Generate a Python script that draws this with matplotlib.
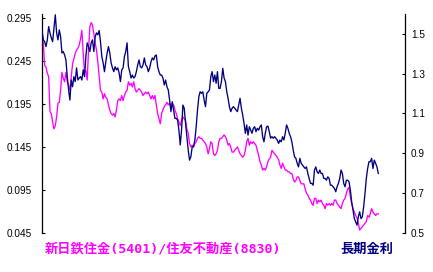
import matplotlib
matplotlib.use("Agg")
import matplotlib.pyplot as plt
import numpy as np

# 新日鉄住金(5401)/住友不動産(8830) の株価比率 (左軸)
ratio = [
    0.275, 0.266, 0.240, 0.238, 0.231, 0.227, 0.186, 0.184, 0.174, 0.166,
    0.170, 0.180, 0.196, 0.197, 0.211, 0.232, 0.225, 0.221, 0.232, 0.221,
    0.217, 0.211, 0.227, 0.242, 0.248, 0.254, 0.258, 0.260, 0.264, 0.271,
    0.281, 0.254, 0.232, 0.234, 0.223, 0.258, 0.285, 0.290, 0.287, 0.277,
    0.266, 0.258, 0.244, 0.227, 0.211, 0.209, 0.201, 0.207, 0.203, 0.201,
    0.194, 0.188, 0.184, 0.182, 0.184, 0.180, 0.188, 0.199, 0.201, 0.199,
    0.205, 0.199, 0.205, 0.209, 0.211, 0.221, 0.217, 0.219, 0.215, 0.221,
    0.213, 0.209, 0.211, 0.213, 0.211, 0.209, 0.205, 0.207, 0.209, 0.207,
    0.209, 0.205, 0.201, 0.205, 0.201, 0.205, 0.194, 0.184, 0.178, 0.172,
    0.184, 0.188, 0.192, 0.194, 0.197, 0.194, 0.196, 0.192, 0.196, 0.194,
    0.188, 0.184, 0.178, 0.174, 0.170, 0.176, 0.180, 0.178, 0.176, 0.166,
    0.161, 0.149, 0.145, 0.147, 0.145, 0.149, 0.151, 0.155, 0.157, 0.155,
    0.155, 0.153, 0.151, 0.149, 0.145, 0.137, 0.143, 0.151, 0.149, 0.137,
    0.135, 0.137, 0.141, 0.151, 0.155, 0.155, 0.157, 0.159,
    0.157, 0.153, 0.147, 0.149, 0.145, 0.139, 0.139, 0.141, 0.143, 0.145,
    0.141, 0.137, 0.135, 0.133, 0.135, 0.141, 0.151, 0.155, 0.147, 0.151,
    0.149, 0.151, 0.149, 0.147, 0.141, 0.135, 0.128, 0.124, 0.118, 0.120,
    0.118, 0.122, 0.128, 0.131, 0.133, 0.141, 0.139, 0.137, 0.135, 0.133,
    0.130, 0.124, 0.120, 0.126, 0.122, 0.118, 0.118, 0.116, 0.116, 0.114,
    0.114, 0.108, 0.104, 0.106, 0.110, 0.110, 0.106, 0.102, 0.102, 0.102,
    0.096, 0.091, 0.089, 0.085, 0.083, 0.079, 0.077, 0.085,
    0.085, 0.079, 0.083, 0.081, 0.083, 0.079, 0.077, 0.073, 0.079, 0.077,
    0.079, 0.077, 0.079, 0.077, 0.083, 0.083, 0.079, 0.077, 0.075, 0.073,
    0.079, 0.083, 0.085, 0.091, 0.096, 0.098, 0.087, 0.079, 0.073, 0.069,
    0.065, 0.062, 0.056, 0.048, 0.050, 0.052, 0.054, 0.056, 0.058, 0.065,
    0.063, 0.067, 0.073, 0.069, 0.067, 0.065, 0.067, 0.067,
]

# 長期金利 (右軸)
rate = [
    1.520, 1.470, 1.461, 1.436, 1.470, 1.537, 1.505, 1.480, 1.461, 1.530,
    1.596, 1.505, 1.470, 1.520, 1.486, 1.404, 1.411, 1.394, 1.369, 1.285,
    1.218, 1.167, 1.268, 1.234, 1.285, 1.260, 1.329, 1.268, 1.278, 1.285,
    1.268, 1.319, 1.285, 1.386, 1.455, 1.436, 1.411, 1.455, 1.470, 1.411,
    1.486, 1.505, 1.495, 1.517, 1.461, 1.386, 1.354, 1.310, 1.360, 1.404,
    1.436, 1.404, 1.354, 1.329, 1.310, 1.335, 1.319, 1.329, 1.304, 1.260,
    1.319, 1.329, 1.386, 1.411, 1.455, 1.335, 1.310, 1.278, 1.293, 1.278,
    1.285, 1.310, 1.344, 1.369, 1.335, 1.329, 1.344, 1.379, 1.344, 1.335,
    1.310, 1.329, 1.360, 1.379, 1.369, 1.389, 1.394, 1.335, 1.310, 1.293,
    1.293, 1.278, 1.243, 1.268, 1.234, 1.218, 1.167, 1.109, 1.159, 1.117,
    1.075, 1.075, 1.067, 1.016, 0.941, 1.016, 1.142, 1.126, 1.050, 0.983,
    0.916, 0.865, 0.882, 0.932, 0.932, 0.966, 1.033, 1.117, 1.184, 1.209,
    1.201, 1.209, 1.167, 1.134, 1.201, 1.209, 1.218, 1.285, 1.310, 1.260,
    1.293, 1.252, 1.310, 1.226, 1.226, 1.260, 1.327, 1.278,
    1.260, 1.209, 1.176, 1.134, 1.109, 1.126, 1.134, 1.126, 1.117, 1.109,
    1.142, 1.176, 1.126, 1.092, 1.050, 1.000, 1.042, 0.991, 1.033, 1.016,
    1.000, 1.025, 1.033, 1.008, 1.025, 1.016, 1.033, 1.042, 0.983, 0.957,
    1.000, 1.033, 1.036, 1.008, 0.975, 0.983, 0.975, 0.983, 0.975, 0.966,
    0.949, 0.966, 0.957, 0.983, 0.966, 1.000, 1.042, 1.025, 1.000, 0.983,
    0.957, 0.916, 0.882, 0.874, 0.849, 0.831, 0.874, 0.849, 0.840, 0.831,
    0.823, 0.831, 0.798, 0.773, 0.748, 0.748, 0.739, 0.815,
    0.831, 0.806, 0.798, 0.815, 0.798, 0.798, 0.773, 0.773, 0.764, 0.781,
    0.773, 0.739, 0.739, 0.731, 0.723, 0.706, 0.731, 0.748, 0.773, 0.815,
    0.798, 0.748, 0.731, 0.764, 0.764, 0.756, 0.714, 0.655, 0.613, 0.571,
    0.554, 0.538, 0.580, 0.605, 0.571, 0.580, 0.630, 0.697, 0.773, 0.823,
    0.857, 0.857, 0.874, 0.823, 0.865, 0.849, 0.831, 0.798,
]

left_ticks = [0.045, 0.095, 0.145, 0.195, 0.245, 0.295]
left_labels = ["0.045", "0.095", "0.145", "0.195", "0.245", "0.295"]
right_ticks = [0.5, 0.7, 0.9, 1.1, 1.3, 1.5]
right_labels = ["0.5", "0.7", "0.9", "1.1", "1.3", "1.5"]

ratio_name = "新日鉄住金(5401)/住友不動産(8830)"
rate_name = "長期金利"

NAVY = "#000080"
MAGENTA = "#FF00FF"


def main():
    plt.rcParams['font.family'] = ['Liberation Sans', 'DejaVu Sans']

    fig = plt.figure(figsize=(4.33, 2.72), dpi=100)
    ax = fig.add_axes([0.097, 0.1445, 0.838, 0.804])
    ax2 = ax.twinx()

    x1 = np.arange(len(ratio))
    x2 = np.arange(len(rate))
    ax.plot(x1, ratio, color=MAGENTA, lw=0.95)
    ax2.plot(x2, rate, color=NAVY, lw=0.95)

    ax.set_xlim(0, 273)
    ax.set_ylim(0.045, 0.300)
    ax2.set_ylim(0.5, 1.6)

    ax.set_xticks([])
    ax.set_yticks(left_ticks)
    ax.set_yticklabels(left_labels)
    ax2.set_yticks(right_ticks)
    ax2.set_yticklabels(right_labels)

    # 枠線は左右だけ
    for a in (ax, ax2):
        a.spines['top'].set_visible(False)
        a.spines['bottom'].set_visible(False)
    ax.spines['right'].set_visible(False)
    ax2.spines['left'].set_visible(False)
    ax.spines['left'].set_linewidth(0.9)
    ax2.spines['right'].set_linewidth(0.9)

    ax.tick_params(axis='y', direction='in', length=2.5, width=0.8,
                   labelsize=7.2, pad=7)
    ax2.tick_params(axis='y', direction='in', length=2.5, width=0.8,
                    labelsize=7.2, pad=4.5)

    # 下のラベル (英数字は等幅で)
    lbl_font = ['DejaVu Sans Mono', 'Noto Sans CJK JP']
    fig.text(45 / 433, 1 - 249 / 272, ratio_name, color=MAGENTA,
             fontsize=9.5, fontweight='bold', family=lbl_font,
             va='center', ha='left')
    fig.text(340 / 433, 1 - 249 / 272, rate_name, color=NAVY,
             fontsize=9.5, fontweight='bold', family=lbl_font,
             va='center', ha='left')

    fig.savefig("out.png", dpi=100)


if __name__ == '__main__':
    main()
